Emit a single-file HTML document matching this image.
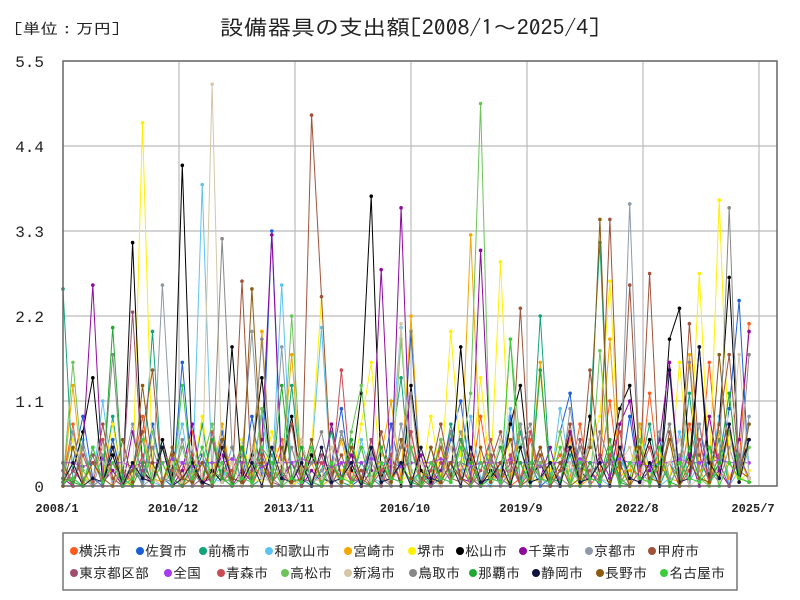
<!DOCTYPE html>
<html><head><meta charset="utf-8">
<style>
body{margin:0;background:#fff;width:800px;height:600px;overflow:hidden;font-family:"Liberation Sans","Noto Sans CJK JP",sans-serif;}
svg{display:block}
</style></head>
<body>
<svg id="chart" width="800" height="600" xmlns="http://www.w3.org/2000/svg">
<text x="14" y="34" font-size="15" textLength="106" lengthAdjust="spacingAndGlyphs" fill="#222" font-family="IPAGothic, Noto Sans CJK JP, sans-serif">[単位：万円]</text>
<text x="220" y="35" font-size="21" textLength="380" lengthAdjust="spacingAndGlyphs" fill="#222" font-family="IPAGothic, Noto Sans CJK JP, sans-serif">設備器具の支出額[2008/1～2025/4]</text>
<g id="grid"></g>
<g id="series"></g>
<rect x="63" y="61" width="714" height="425" fill="none" stroke="#666" stroke-width="1.5"/>
<g id="axes"></g>
<g id="legend"></g>
</svg>
<script>
const names=["横浜市","佐賀市","前橋市","和歌山市","宮崎市","堺市","松山市","千葉市","京都市","甲府市","東京都区部","全国","青森市","高松市","新潟市","鳥取市","那覇市","静岡市","長野市","名古屋市"];
const colors=["#ff5a1f","#1a5fd6","#12a37a","#5cc3f2","#f2a800","#fff000","#000000","#8e0a9e","#8e9aa8","#a0523a","#a04d6e","#a63cf0","#c84c54","#6cc45a","#d6c6a8","#888888","#22a832","#10123f","#8c5a10","#3ccc3c"];
const yTicks=[0,1.1,2.2,3.3,4.4,5.5];
const yTickLabels=["0","1.1","2.2","3.3","4.4","5.5"];
const xTickMonths=[0,35,70,105,140,175,210];
const xTickLabels=["2008/1","2010/12","2013/11","2016/10","2019/9","2022/8","2025/7"];
const stepMonths=3;
const s0=[.1,.8,0,.3,.1,.6,.05,.2,.9,.1,0,.4,.1,.7,.05,.2,.1,.5,0,.3,.1,.2,.6,0,.1,.4,.05,.8,.1,.2,0,.6,.1,.05,.3,.7,.1,0,.5,.1,.2,.05,.9,.1,.3,0,.1,.6,.05,.2,.4,.1,.8,0,.2,1.1,.1,.3,.05,1.2,.1,.6,0,.8,.2,1.6,.1,.7,.3,2.1];
const s1=[.05,.3,.9,.1,0,.6,.1,.2,.05,.8,.1,0,1.6,.1,.4,0,.7,.1,.05,.9,.1,3.3,.2,0,.6,.05,.1,.3,1.0,0,.1,.5,.05,.8,.1,2.0,0,.2,.05,.6,1.1,.1,0,.4,.05,.9,.1,.3,0,.1,.7,1.2,.05,.2,0,.5,.1,.9,.05,.2,.6,0,.3,.1,.8,.05,.2,1.0,2.4,.1];
const s2=[2.55,.1,0,.5,.05,.9,0,.2,.1,2.0,.05,.3,0,.1,.8,0,.2,.05,.6,0,.1,.4,.05,1.3,.1,0,.2,.7,.05,0,.3,.1,0,.5,1.4,.05,.2,0,.1,.8,.05,.3,0,.6,.1,0,.7,.05,2.2,.1,.05,.4,0,.9,3.15,.1,.5,0,.2,.8,0,.3,.1,1.2,.05,.2,.6,0,.4,.1];
const s3=[.2,0,.6,.05,1.1,.1,0,.3,.7,.05,0,.2,.8,0,3.9,.1,.05,.5,0,.2,.9,.05,2.6,.1,0,.4,2.05,.05,.2,0,.6,.1,.05,.5,2.05,0,.2,.1,0,.7,.05,.9,.1,0,.2,1.0,.05,.3,.1,0,1.0,.2,.05,.6,.1,0,.4,.05,.8,.2,0,.1,.7,.05,.3,.1,.9,0,.2,.8];
const s4=[0,1.3,.1,.05,.5,.1,.2,0,.7,.1,.05,.3,0,.2,.05,.1,.8,.05,.4,0,2.0,.1,.2,1.7,.05,.3,0,.1,.6,.05,.2,0,.4,1.1,.1,2.2,.05,.2,0,.7,.1,3.25,.3,.05,.2,0,.8,.1,1.6,.05,.2,.6,0,.1,.3,1.9,.05,.2,.8,0,.5,.1,.05,1.7,.2,0,.7,.1,.4,.05];
const s5=[.1,.6,0,.3,.1,.8,.05,0,4.7,.2,.05,.5,0,.1,.9,.05,.3,0,.6,.1,.05,.7,.2,0,.1,.5,2.45,.05,.2,0,.8,1.6,.1,.4,.05,.2,0,.9,.1,2.0,.4,.05,1.4,.1,2.9,.05,.3,.1,.05,.2,.7,.1,0,.5,.9,2.65,.2,.05,.7,.1,.4,0,1.6,.2,2.75,.1,3.7,.3,.05,.2];
const s6=[0,.2,.7,1.4,.05,.4,0,3.15,.2,.05,.6,.1,4.15,.3,0,.2,.05,1.8,.1,.4,1.4,.05,.2,.9,0,.4,.1,.05,.7,.2,1.2,3.75,.1,.4,0,1.3,.2,.05,.6,.1,1.8,.3,0,.2,.05,.8,1.3,.1,.3,0,.2,.7,.05,.9,.1,.3,1.0,1.3,.2,.6,.05,1.9,2.3,.3,1.8,.1,.8,2.7,.2,.6];
const s7=[.1,0,.5,2.6,.05,.2,0,.7,.1,.05,.3,0,.2,.8,.05,.1,.4,0,.2,.05,.6,3.25,.1,.3,0,.2,.05,.8,.1,.4,0,.2,2.8,.1,3.6,.05,.4,0,.2,.7,.1,.05,3.05,.3,0,.2,.8,.05,.1,.5,0,.7,.2,.05,.4,.1,.8,1.1,.05,.2,.6,1.6,.1,.4,0,.9,.2,0,.6,2.0];
const s8=[.05,.7,.1,0,.4,.05,.2,.8,0,.1,2.6,.4,.05,.2,0,.6,.1,.05,.4,2.0,.2,0,1.8,.1,.3,.05,.2,0,.7,.1,.05,.4,.2,0,.8,.1,.05,.5,0,.2,.7,.1,.05,.4,0,.2,.8,.05,.4,.1,0,1.0,.2,.6,.05,.3,.1,3.65,.2,.05,.7,.1,.4,0,.8,.2,.05,.5,.1,.9];
const s9=[.3,0,.5,.05,.8,.1,0,.2,.7,1.5,.05,.4,0,.1,.3,.05,.6,0,2.65,.1,.4,.05,.2,.8,0,4.8,2.45,.1,.4,.05,.2,0,.7,.1,.05,.5,0,.2,.8,.1,.05,.4,0,.3,.7,.05,2.3,.1,.4,0,.2,.8,.05,1.5,.3,3.45,.1,2.6,.2,2.75,.05,.7,.1,2.1,.4,.05,.8,1.7,.2,.1];
const s10=[0,.2,.05,.4,0,.3,.1,2.25,.2,0,.5,.05,.3,0,.1,.6,.05,.3,0,.2,.5,.05,0,.3,.1,.05,.4,0,.3,.05,.1,.6,0,.3,.05,.5,.1,0,.3,.05,.6,.1,0,.4,.05,.3,0,.2,.5,.05,.3,0,.6,.1,.05,.4,0,.3,.1,.05,.5,0,.3,.1,.6,.05,.3,0,.4,.1];
const s11=[.3,.3,.25,.3,.35,.3,.3,.25,.3,.3,.3,.35,.3,.25,.3,.3,.3,.35,.3,.3,.25,.3,.3,.3,.35,.3,.3,.25,.3,.3,.3,.35,.3,.3,.25,.3,.3,.3,.35,.3,.3,.25,.3,.3,.3,.35,.3,.3,.25,.3,.3,.3,.35,.3,.3,.3,.35,.3,.3,.25,.3,.3,.35,.3,.3,.3,.35,.3,.3,.3];
const s12=[.2,0,.4,.05,.6,0,.2,.05,.4,0,.5,.2,.05,.4,0,.7,.05,.2,.5,0,.3,.05,.2,0,.6,.05,.3,.1,1.5,.05,.5,0,.2,.4,.05,.7,0,.2,.5,.05,.3,0,.2,.6,.05,.4,0,.7,.1,.05,.3,.5,0,.2,.05,.4,.7,0,.2,.5,.05,.3,0,.2,.6,.05,.4,.8,.1,.05];
const s13=[.05,1.6,.2,0,.1,.5,.05,.3,0,.7,.1,.05,.5,0,.3,.8,.05,.1,.5,0,1.0,.2,.05,2.2,.1,.5,.05,.3,0,.7,1.3,.1,.5,.05,1.9,.2,0,.1,.6,.05,.3,1.2,4.95,.1,.05,1.9,.5,0,.3,.1,.7,.05,.5,0,1.75,.3,.05,.1,.6,0,.3,.8,.05,.5,.1,0,.3,.7,.05,.5];
const s14=[0,.3,.05,.1,.5,0,.3,.05,.6,.1,0,.3,.05,.5,.1,5.2,.05,.3,0,.5,.1,.05,.3,0,.6,.05,.1,.5,0,.3,.05,.1,.5,0,2.1,.05,.3,.1,0,.5,.05,.3,0,.1,.6,.05,.3,0,.5,.1,.05,.3,0,.6,.1,.05,.3,.5,0,.1,.05,.3,.6,0,.1,.5,.05,.3,1.7,.1];
const s15=[.3,.05,.5,0,.1,1.7,.05,.3,0,.5,.1,.05,.6,0,.3,.1,3.2,.5,.05,.3,1.9,.1,0,.5,.05,.3,.7,.1,0,.5,.05,.3,.1,0,.5,1.2,.05,.3,.1,.7,0,.5,.05,.3,.1,0,.5,.8,.05,.3,.1,0,.5,.05,.7,.3,.1,0,.5,.05,.3,.8,.1,1.6,.05,.5,.3,3.6,.1,1.7];
const s16=[.1,.05,0,.5,.05,2.05,.1,0,.3,.05,.5,.1,0,.3,.05,.6,.1,0,.5,.05,.3,0,1.3,.1,.5,.05,0,.3,.1,.6,.05,0,.5,.1,.3,.05,0,.5,.1,.05,.6,.3,0,.1,.5,.05,.3,0,1.5,.1,.05,.5,0,.3,.1,.6,.05,0,.5,.1,.3,.05,0,.5,.1,.05,.3,1.2,.1,.05];
const s17=[.05,.3,0,.1,.05,.5,0,.3,.1,.05,.5,0,.1,.3,.05,0,.5,.1,.05,.3,0,.5,.1,.05,.3,0,.5,.05,.1,.3,0,.5,.05,.1,.3,0,.5,.1,.05,.3,0,.5,.05,.1,.3,0,.5,.05,.1,.3,0,.5,.05,.1,.3,0,.5,.1,.05,.3,0,1.5,.05,.1,1.8,.3,.1,.8,.05,.6];
const s18=[0,.5,.05,.3,.1,0,.6,.05,1.3,.3,0,.5,.1,.05,.3,0,.6,.1,.05,2.55,.3,0,.5,.05,.1,.6,0,.3,.05,.5,.1,0,.3,.05,.6,.1,0,.5,.05,.3,.1,0,.5,.05,.3,.6,0,.1,.5,.05,.3,0,.1,.5,3.45,.05,.3,0,.5,.1,.05,.6,0,.3,.1,.05,1.7,.3,.1,.8];
const s19=[.05,.1,0,.5,.05,.3,0,.1,.6,.05,.3,0,1.3,.1,.5,.05,.3,0,.1,.05,.5,.3,0,.1,.05,.5,0,.3,.1,.05,.5,0,.3,.1,.05,.5,0,.3,.1,.05,.5,0,.3,.1,.05,1.9,0,.3,.1,.05,.5,0,.3,.1,.05,.5,0,.3,.1,.05,.5,0,.3,.1,.05,.5,0,.3,.1,.05];
const seriesData=[s0,s1,s2,s3,s4,s5,s6,s7,s8,s9,s10,s11,s12,s13,s14,s15,s16,s17,s18,s19];
const NS="http://www.w3.org/2000/svg";
const L=63,T=61,B=486,pxPerMonth=116/35,yMax=5.5;
function xScale(m){return L+m*pxPerMonth;}
function yScale(v){return B-(v/yMax)*(B-T);}
function mk(tag,attrs,parent){const e=document.createElementNS(NS,tag);for(const k in attrs)e.setAttribute(k,attrs[k]);parent.appendChild(e);return e;}
const grid=document.getElementById('grid'),axes=document.getElementById('axes');
yTicks.forEach((v,i)=>{
  const gl=mk('line',{x1:L,x2:777,y1:yScale(v),y2:yScale(v),stroke:'#bbb','stroke-width':1.2},grid);
  
  
  const t=mk('text',{x:44,y:yScale(v)+6,'font-size':16,'text-anchor':'end',fill:'#222','font-family':'Liberation Mono, monospace'},axes);
  t.textContent=yTickLabels[i];
  
  
});
xTickMonths.forEach((m,i)=>{
  const x=xScale(m);
  if(i>0&&x<777){const gl=mk('line',{x1:x,x2:x,y1:T,y2:B,stroke:'#bbb','stroke-width':1.2},grid);
  
  }
  const t=mk('text',{x:x-6,y:512,'font-size':12,'text-anchor':'middle',fill:'#222','font-weight':'bold','font-family':'Liberation Mono, monospace'},axes);
  t.textContent=xTickLabels[i];
  
  
});
const sg=document.getElementById('series');
seriesData.forEach((arr,si)=>{
  const g=mk('g',{},sg);
  
  
  const pts=arr.map((v,i)=>xScale(i*stepMonths).toFixed(1)+','+yScale(v).toFixed(1)).join(' ');
  const pl=mk('polyline',{points:pts,fill:'none',stroke:colors[si],'stroke-width':1},g);
  
  
  arr.forEach((v,i)=>{
    const c=mk('circle',{cx:xScale(i*stepMonths),cy:yScale(v),r:1.8,fill:colors[si]},g);
    
    
  });
});
const lg=document.getElementById('legend');
const box=mk('rect',{x:63,y:533,width:674,height:57,fill:'#fff',stroke:'#777','stroke-width':1.5},lg);


const colX1=[71,137,200,266,345,409,457,520,586,649];
const colX2=[71,165,218,282,345,410,470,533,597,661];
names.forEach((n,i)=>{
  const row=Math.floor(i/10),col=i%10;
  const x=row?colX2[col]:colX1[col],y=row?573:551;
  const g=mk('g',{},lg);
  
  
  mk('circle',{cx:x+3,cy:y,r:4,fill:colors[i]},g);
  const t=mk('text',{x:x+8,y:y+5,'font-size':14,fill:'#222','font-family':'IPAGothic, Noto Sans CJK JP, sans-serif'},g);
  t.textContent=n;
});
</script>
</body></html>
